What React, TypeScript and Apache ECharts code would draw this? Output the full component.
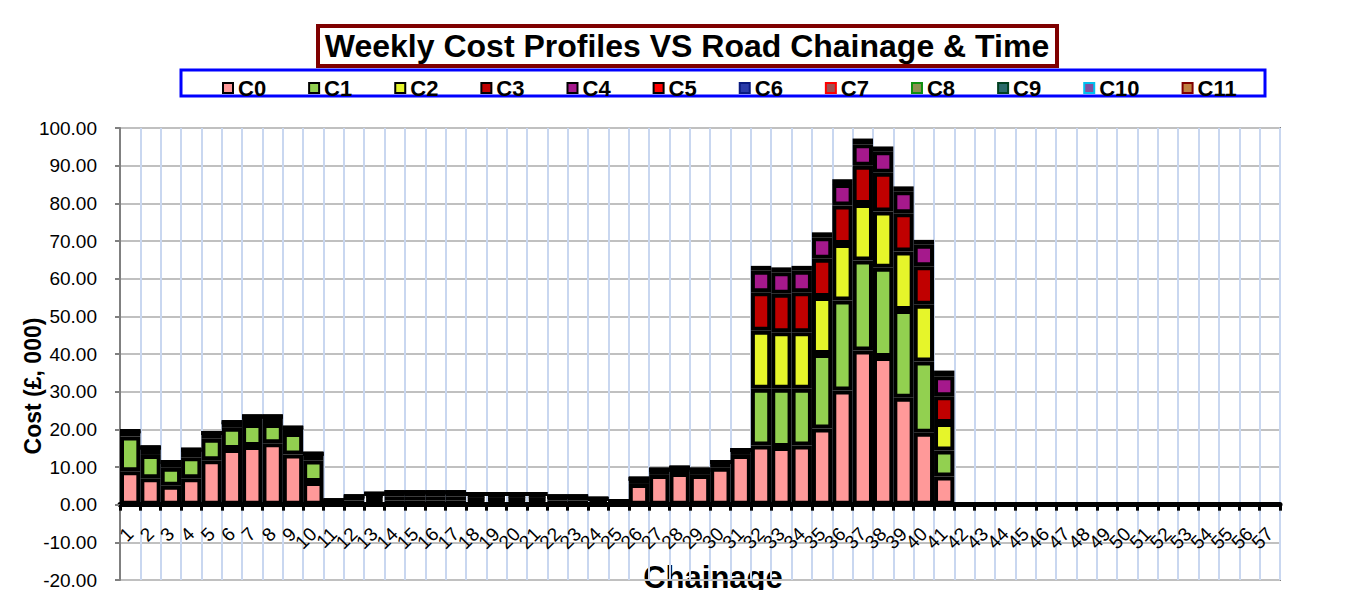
import React, { useEffect, useRef } from "react";
import * as echarts from "echarts";

const categories = [
  "1","2","3","4","5","6","7","8","9","10","11","12","13","14","15","16","17","18","19","20",
  "21","22","23","24","25","26","27","28","29","30","31","32","33","34","35","36","37","38","39","40",
  "41","42","43","44","45","46","47","48","49","50","51","52","53","54","55","56","57",
];

const yMin = -20;
const yMax = 100;
const yStep = 10;

const C0 = [8.9,7.0,5.0,7.0,11.8,14.8,15.6,16.3,13.3,6.0, 1.1,1.1,1.0,1.1,1.1,1.1,1.1,1.0,1.0,1.0, 1.0,1.1,1.1,0.8,0.9,5.5,7.9,8.4,7.9,9.8, 13.2,15.7,15.3,15.7,20.2,30.3,40.9,39.2,28.4,19.1, 7.5];
const C1 = [9.2,6.2,4.8,5.6,5.7,5.6,5.8,5.1,5.7,5.7, 0,1.1,1.0,1.1,1.1,1.1,1.1,0.9,0.9,0.9, 0.9,1.1,1.1,0.8,0,1.4,1.4,1.4,1.4,1.5, 1.3,15.1,15.5,15.1,19.8,23.9,23.9,23.7,23.3,18.9, 6.9];
const C2 = [1.4,2.0,1.5,2.0,1.5,1.5,2.0,2.0,1.4,1.8, 0,0,0.9,1.1,1.1,1.1,1.1,0.9,0.9,0.9, 0.9,0,0,0,0,0,0,0,0,0, 0,15.4,15.0,15.0,15.1,15.0,15.0,14.9,15.5,15.1, 7.3];
const C3 = [0,0,0,0,0,0,0,0,0,0, 0,0,0,0,0,0,0,0,0,0, 0,0,0,0,0,0,0,0,0,0, 0,10.2,10.2,10.6,10.2,10.2,10.2,10.3,10.2,10.2, 7.1];
const C4 = [0,0,0,0,0,0,0,0,0,0, 0,0,0,0,0,0,0,0,0,0, 0,0,0,0,0,0,0,0,0,0, 0,5.7,5.7,5.7,5.7,5.7,5.7,5.7,5.8,5.7, 5.3];
const C5 = [0,0,0,0,0,0,0,0,0,0, 0,0,0,0,0,0,0,0,0,0, 0,0,0,0,0,0,0,0,0,0, 0,1.3,1.3,1.3,1.3,1.3,1.5,1.3,1.3,1.3, 1.5];
const C6: number[] = [];
const C7: number[] = [];
const C8: number[] = [];
const C9: number[] = [];
const C10: number[] = [];
const C11: number[] = [];

const seriesNames = ["C0","C1","C2","C3","C4","C5","C6","C7","C8","C9","C10","C11"];
const seriesValues = [C0, C1, C2, C3, C4, C5, C6, C7, C8, C9, C10, C11];
const fillColors = ["#ff9999","#92d050","#e6f52a","#c00000","#a5198c","#ff0000","#2a3aa8","#a05050","#8c9050","#2a6a6a","#8050a0","#c08040"];
const legendBorders = ["#000000","#000000","#000000","#000000","#000000","#000000","#0a1a80","#ff0000","#109010","#004020","#00c0f0","#800000"];

const FONT = "'Liberation Sans', Arial, sans-serif";

const GRID_TOP = 128;
const GRID_BOTTOM_PX = 580;

export default function App() {
  const ref = useRef<HTMLDivElement>(null);
  useEffect(() => {
    if (!ref.current) return;
    const chart = echarts.init(ref.current, null, { renderer: "svg" });
    const gridH = GRID_BOTTOM_PX - GRID_TOP;
    const zeroOffset = (gridH * (0 - yMin)) / (yMax - yMin);
    const series = seriesNames.map((name, i) => ({
      name,
      type: "bar",
      stack: "total",
      data: seriesValues[i],
      barCategoryGap: "0%",
      itemStyle: { color: fillColors[i], borderColor: "#000000", borderWidth: 4 },
    }));
    chart.setOption({
      animation: false,
      backgroundColor: "#ffffff",
      textStyle: { fontFamily: FONT },
      grid: {
        left: 120, right: 71, top: GRID_TOP, bottom: 598 - GRID_BOTTOM_PX,
        show: true, borderColor: "#808080", borderWidth: 2,
        containLabel: false, outerBoundsMode: "none",
      },
      legend: {
        left: 217, top: 72,
        itemWidth: 10, itemHeight: 10, itemGap: 42,
        icon: "rect",
        textStyle: { fontSize: 22, fontWeight: "bold", color: "#000", fontFamily: FONT },
        data: seriesNames.map((n, i) => ({
          name: n,
          itemStyle: { color: fillColors[i], borderColor: legendBorders[i], borderWidth: 2 },
        })),
      },
      xAxis: {
        type: "category",
        data: categories,
        offset: -zeroOffset,
        axisLine: { onZero: false, lineStyle: { color: "#000", width: 5 } },
        axisTick: { show: true, length: 6, lineStyle: { color: "#000", width: 3 } },
        axisLabel: { interval: 0, rotate: 45, fontSize: 19, color: "#000", margin: 26, fontFamily: FONT },
        splitLine: { show: true, lineStyle: { color: "#c9d7f0", width: 2 } },
      },
      yAxis: {
        type: "value",
        min: yMin, max: yMax, interval: yStep,
        axisLine: { show: true, lineStyle: { color: "#808080", width: 2 } },
        axisTick: { show: true, length: 5, lineStyle: { color: "#808080", width: 2 } },
        axisLabel: { fontSize: 19, color: "#000", margin: 23, fontFamily: FONT, formatter: (v: number) => v.toFixed(2) },
        splitLine: { show: true, lineStyle: { color: "#c0c0c0", width: 2 } },
      },
      graphic: [
        { type: "rect", z: -10, shape: { x: 6, y: 6, width: 1340, height: 620 }, style: { fill: "none", stroke: "#222", lineWidth: 2 } },
        { type: "rect", shape: { x: 318, y: 26, width: 739, height: 40 }, style: { fill: "#fff", stroke: "#7f0000", lineWidth: 4 } },
        { type: "text", x: 687, y: 46, style: { text: "Weekly Cost Profiles VS Road Chainage & Time", font: `bold 32px ${FONT}`, fill: "#000", textAlign: "center", textVerticalAlign: "middle" } },
        { type: "rect", z: -5, shape: { x: 181, y: 70, width: 1084, height: 26 }, style: { fill: "none", stroke: "#0000ff", lineWidth: 3 } },
        { type: "text", x: 33, y: 386, rotation: Math.PI / 2, style: { text: "Cost (£, 000)", font: `bold 23px ${FONT}`, fill: "#000", textAlign: "center", textVerticalAlign: "middle" } },
        { type: "text", x: 713, y: 577, style: { text: "Chainage", font: `bold 31px ${FONT}`, fill: "#000", textAlign: "center", textVerticalAlign: "middle" } },
      ],
      series,
    });
    return () => chart.dispose();
  }, []);
  return <div ref={ref} style={{ width: 1351, height: 598, margin: -8 }} />;
}
